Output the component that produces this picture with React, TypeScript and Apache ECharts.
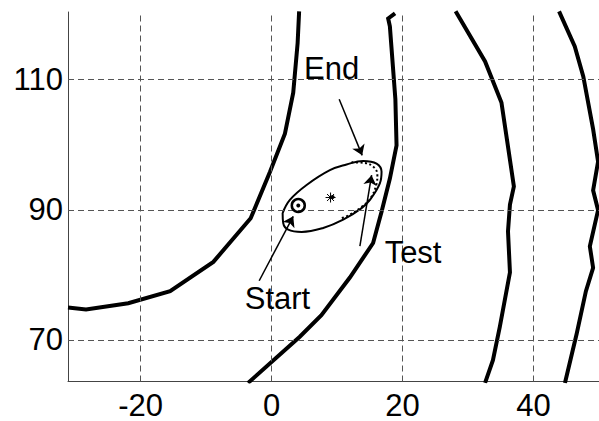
import React, { useEffect, useRef } from "react";
import * as echarts from "echarts";

const FONT = "'Liberation Sans', Arial, Helvetica, sans-serif";

const xTicks = [-20, 0, 20, 40];
const yTicks = [70, 90, 110];

const contour1 = [
  [-31.1, 75.0], [-28.35, 74.7], [-21.9, 75.65], [-15.5, 77.5], [-8.9, 82.0],
  [-3.2, 88.7], [-0.26, 95.8], [2.03, 101.7], [3.3, 108.0], [3.97, 115.6], [4.2, 120.5],
];
const contour2 = [
  [-3.6, 63.4], [4.3, 70.5], [7.6, 73.8], [11.95, 79.6], [15.5, 84.9], [16.8, 89.75],
  [18.06, 94.8], [19.08, 99.9], [18.9, 107.0], [18.3, 115.0], [18.06, 118.2], [17.8, 119.4], [18.85, 120.2],
];
const contour3 = [
  [32.6, 63.4], [33.8, 66.9], [34.85, 72.0], [36.4, 80.4], [36.1, 86.7], [36.4, 90.8],
  [37.0, 93.6], [35.1, 106.5], [32.6, 112.8], [28.1, 120.5],
];
const contour4 = [
  [44.8, 63.4], [46.6, 71.0], [48.0, 77.5], [49.1, 81.1], [48.6, 84.4], [49.86, 89.95],
  [49.1, 93.0], [49.86, 97.4], [49.1, 102.4], [47.6, 110.5], [46.3, 115.1], [43.9, 120.5],
];

const ellipsePts = [
  [1.68, 89.5], [2.79, 91.52], [5.34, 93.81], [8.9, 96.09], [11.45, 96.96], [13.98, 97.52],
  [16.03, 97.11], [16.79, 95.84], [16.53, 94.06], [15.01, 91.52], [13.74, 90.26], [10.93, 88.48],
  [7.88, 87.21], [4.58, 86.61], [2.53, 86.96], [1.77, 87.98], [1.68, 89.5],
];
const testPath = [
  [12.2, 97.3], [14.24, 97.2], [15.55, 96.6], [16.15, 95.43], [16.0, 93.91], [15.1, 91.78],
  [13.75, 90.45], [11.95, 89.25], [10.4, 88.6],
];

const startPoint = [4.07, 90.67];
const centerPoint = [9.0, 91.89];
const centerDot = [9.31, 91.98];

const arrowTails = [[10.32, 107.0], [13.48, 84.43], [-1.9, 79.1]];
const arrowTips = [[13.83, 98.37], [15.27, 95.33], [3.3, 89.0]];

const labelNames = ["End", "Test", "Start"];
const labelX = [9.16, 21.6, 0.89];
const labelY = [111.7, 83.4, 76.4];

export default function App() {
  const ref = useRef<HTMLDivElement>(null);
  useEffect(() => {
    if (!ref.current) return;
    const chart = echarts.init(ref.current, undefined, { renderer: "svg" });
    const contourSeries = [contour1, contour2, contour3, contour4].map((d) => ({
      type: "line",
      data: d,
      showSymbol: false,
      symbol: "none",
      z: 3,
      lineStyle: { color: "#000", width: 4, join: "miter" },
    }));
    chart.setOption({
      animation: false,
      backgroundColor: "#fff",
      grid: { left: 68, right: 0, top: 12, bottom: 35, containLabel: false },
      xAxis: {
        type: "value",
        min: -31.1,
        max: 50,
        axisLine: { show: true, onZero: false, lineStyle: { color: "#444", width: 1 } },
        axisTick: { show: true, inside: true, length: 4, customValues: xTicks, lineStyle: { color: "#444" } },
        axisLabel: {
          customValues: xTicks,
          fontSize: 31,
          lineHeight: 22,
          color: "#000",
          margin: 13,
          fontFamily: FONT,
        },
        splitLine: { show: false },
      },
      yAxis: {
        type: "value",
        min: 63.62,
        max: 120.4,
        axisLine: { show: true, onZero: false, lineStyle: { color: "#444", width: 1 } },
        axisTick: { show: true, inside: true, length: 4, customValues: yTicks, lineStyle: { color: "#444" } },
        axisLabel: { customValues: yTicks, fontSize: 31, color: "#000", margin: 5, fontFamily: FONT },
        splitLine: { show: false },
      },
      series: [
        {
          type: "line",
          data: [],
          z: 1,
          markLine: {
            silent: true,
            symbol: ["none", "none"],
            label: { show: false },
            lineStyle: { color: "#555", type: [6, 4], width: 1 },
            data: [...xTicks.map((v) => ({ xAxis: v })), ...yTicks.map((v) => ({ yAxis: v }))],
          },
        },
        ...contourSeries,
        {
          type: "line",
          data: ellipsePts,
          showSymbol: false,
          symbol: "none",
          smooth: 0.4,
          z: 4,
          lineStyle: { color: "#000", width: 2 },
        },
        {
          type: "line",
          data: testPath,
          showSymbol: false,
          symbol: "none",
          smooth: 0.4,
          z: 4,
          lineStyle: { color: "#000", width: 2, type: [2, 2.5] },
        },
        {
          type: "lines",
          coordinateSystem: "cartesian2d",
          z: 5,
          symbol: ["none", "arrow"],
          symbolSize: 10,
          lineStyle: { color: "#000", width: 1.5, opacity: 1 },
          data: arrowTails.map((t, i) => ({ coords: [t, arrowTips[i]] })),
        },
        {
          type: "scatter",
          z: 6,
          symbol: "circle",
          symbolSize: 13,
          itemStyle: { color: "rgba(0,0,0,0)", borderColor: "#000", borderWidth: 2.5, opacity: 1 },
          data: [startPoint],
        },
        {
          type: "scatter",
          z: 6,
          symbol: "circle",
          symbolSize: 4,
          itemStyle: { color: "#000", opacity: 1 },
          data: [startPoint, centerDot],
        },
        {
          type: "scatter",
          z: 6,
          symbol: "path://M5 0V10M0 5H10M1.5 1.5L8.5 8.5M1.5 8.5L8.5 1.5",
          symbolSize: 10,
          itemStyle: { color: "none", borderColor: "#000", borderWidth: 1, opacity: 1 },
          data: [centerPoint],
        },
        {
          type: "scatter",
          z: 7,
          symbolSize: 0,
          itemStyle: { opacity: 1 },
          label: {
            show: true,
            position: "inside",
            formatter: "{b}",
            fontSize: 31,
            color: "#000",
            opacity: 1,
            textBorderWidth: 0,
            fontFamily: FONT,
          },
          data: labelNames.map((n, i) => ({ name: n, value: [labelX[i], labelY[i]] })),
        },
      ],
    });
    return () => chart.dispose();
  }, []);
  return (
    <div
      ref={ref}
      style={{ position: "fixed", left: 0, top: 0, width: 599, height: 421, background: "#fff" }}
    />
  );
}
